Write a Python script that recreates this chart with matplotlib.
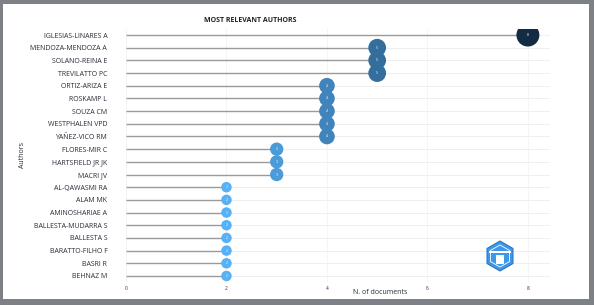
import numpy as np
import matplotlib.pyplot as plt
from matplotlib.patches import Rectangle, RegularPolygon
from matplotlib.colors import LinearSegmentedColormap

authors = ["IGLESIAS-LINARES A", "MENDOZA-MENDOZA A", "SOLANO-REINA E", "TREVILATTO PC",
           "ORTIZ-ARIZA E", "ROSKAMP L", "SOUZA CM", "WESTPHALEN VPD", "YAÑEZ-VICO RM",
           "FLORES-MIR C", "HARTSFIELD JR JK", "MACRI JV", "AL-QAWASMI RA", "ALAM MK",
           "AMINOSHARIAE A", "BALLESTA-MUDARRA S", "BALLESTA S", "BARATTO-FILHO F",
           "BASRI R", "BEHNAZ M"]
docs = [8, 5, 5, 5, 4, 4, 4, 4, 4, 3, 3, 3, 2, 2, 2, 2, 2, 2, 2, 2]
xticks = [0, 2, 4, 6, 8]

W, H = 594, 305
fig = plt.figure(figsize=(W / 100, H / 100), dpi=100)
fig.patch.set_facecolor("#7d8084")
fig.patches.append(Rectangle((3 / W, 1 - 299 / H), 586 / W, 295 / H,
                             transform=fig.transFigure, facecolor="white",
                             edgecolor="none", zorder=-10))

font = "Open Sans"
tc = "#2a2d3a"

# axes box in pixels
left, right, top, bottom = 126, 550, 28.7, 282.3
ax = fig.add_axes([left / W, 1 - bottom / H, (right - left) / W, (bottom - top) / H])
ax.set_facecolor("none")
n = len(authors)
y = np.arange(n)[::-1]
ax.set_ylim(-0.5, n - 0.5)
ax.set_xlim(0, 8.44)

for yy in y:
    ax.axhline(yy, color="#ececec", lw=0.6, zorder=0)
for xx in xticks:
    ax.axvline(xx, color="#f2f2f2", lw=0.6, zorder=0)

ax.hlines(y, 0, docs, color="#9a9a9a", lw=1.0, zorder=1)

cmap = LinearSegmentedColormap.from_list("g", ["#56B1F7", "#132B43"])
vals = np.array(docs)
t = (vals - vals.min()) / (vals.max() - vals.min())
d_px = 8.83 * np.sqrt(vals) - 2
sizes = (d_px / 100 * 72) ** 2
ax.scatter(docs, y, s=sizes, c=cmap(t), zorder=3, edgecolors="none")
for v, yy in zip(docs, y):
    ax.text(v, yy, str(v), color="white", fontsize=2.5, ha="center", va="center",
            family=font, zorder=4)

ax.set_yticks(y)
ax.set_yticklabels(authors, family=font, fontsize=5, color=tc)
ax.set_xticks(xticks)
ax.set_xticklabels([str(x) for x in xticks], family=font, fontsize=3.5, color=tc)
ax.tick_params(length=0, pad=3)
ax.tick_params(axis="y", pad=13.5)
for s in ax.spines.values():
    s.set_visible(False)

fig.text(204 / W, 1 - 20 / H, "MOST RELEVANT AUTHORS", family=font, fontsize=5,
         fontweight="bold", color="#222222", ha="left", va="center")
fig.text(23 / W, 1 - 155 / H, "Authors", family=font, fontsize=5, color=tc,
         rotation=90, ha="center", va="center")
fig.text(380 / W, 1 - 292 / H, "N. of documents", family=font, fontsize=5, color=tc,
         ha="center", va="center")

# logo
fig.patches.append(RegularPolygon((500, H - 256), 6, radius=15, orientation=0,
                                  transform=None, facecolor="#3d98ea",
                                  edgecolor="#2f74c4", lw=0.8, zorder=5))
fig.patches.append(RegularPolygon((500, H - 256), 6, radius=11, orientation=0,
                                  transform=None, facecolor="none",
                                  edgecolor="white", lw=0.6, zorder=6))
fig.patches.append(Rectangle((489, H - 253), 22, 2, transform=None,
                             facecolor="white", edgecolor="none", zorder=6))
fig.patches.append(Rectangle((496, H - 264), 8, 9, transform=None,
                             facecolor="white", edgecolor="none", zorder=6))

fig.savefig("out.png", dpi=100, facecolor=fig.get_facecolor())
